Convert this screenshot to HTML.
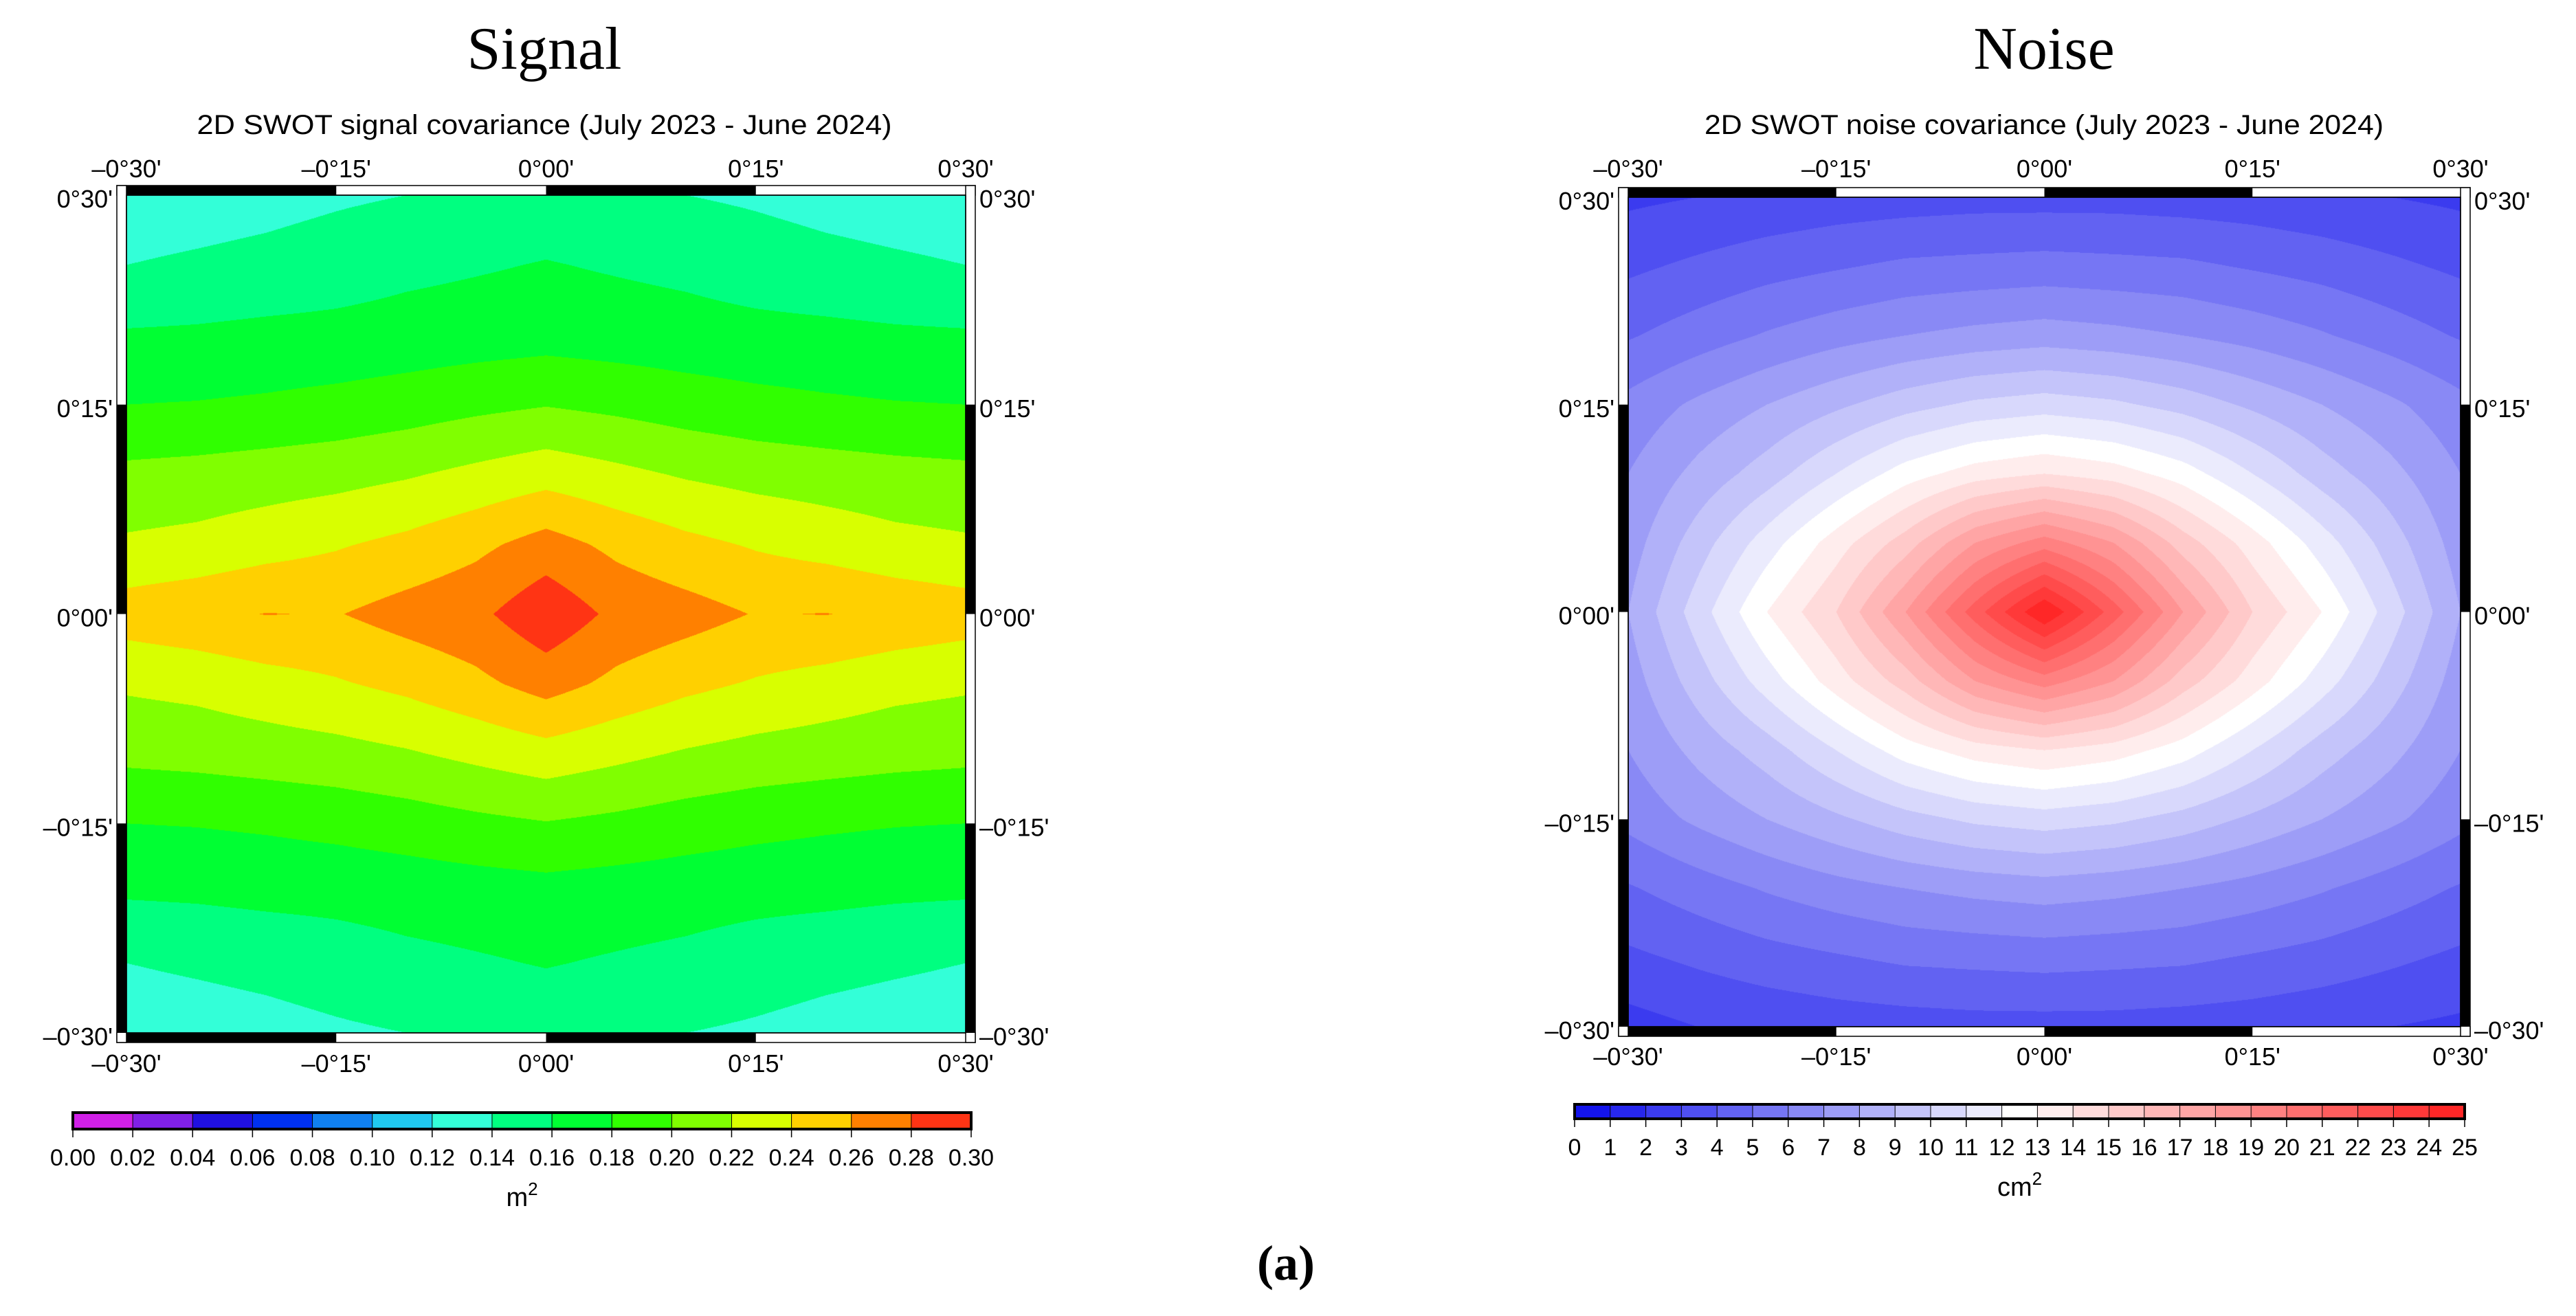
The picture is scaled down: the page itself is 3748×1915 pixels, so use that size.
<!DOCTYPE html>
<html><head><meta charset="utf-8">
<style>
html,body{margin:0;padding:0;background:#fff;}
#root{position:relative;width:3748px;height:1915px;overflow:hidden;background:#fff;}
canvas{position:absolute;}
svg{position:absolute;left:0;top:0;}
</style></head>
<body>
<div id="root">
<canvas id="sigc" style="left:184px;top:284px" width="1221" height="1219"></canvas>
<canvas id="noic" style="left:2369px;top:287px" width="1211" height="1207"></canvas>
<svg id="ov" width="3748" height="1915"></svg>
</div>
<script>
// ---- data ----
const lonTicks = ["\u20130\u00b030'","\u20130\u00b015'","0\u00b000'","0\u00b015'","0\u00b030'"];
const latTicks = ["0\u00b030'","0\u00b015'","0\u00b000'","\u20130\u00b015'","\u20130\u00b030'"];
const signalLevels = [0,0.02,0.04,0.06,0.08,0.10,0.12,0.14,0.16,0.18,0.20,0.22,0.24,0.26,0.28,0.30];
const signalLevelLabels = ["0.00","0.02","0.04","0.06","0.08","0.10","0.12","0.14","0.16","0.18","0.20","0.22","0.24","0.26","0.28","0.30"];
const signalColors = ["#d020e8","#8020e8","#2010e0","#0030f0","#1080f0","#20c8f0","#33ffd8","#00ff80","#00ff33","#30ff00","#80ff00","#d8ff00","#ffd000","#ff8000","#ff3414"];
const noiseLevels = [0,1,2,3,4,5,6,7,8,9,10,11,12,13,14,15,16,17,18,19,20,21,22,23,24,25];
// rows: lat +30' .. -30' (step 5'), cols: lon -30' .. +30' (step 5')
const signalValues = [
[.128,.130,.133,.137,.140,.145,.148,.145,.140,.137,.133,.130,.128],
[.140,.143,.146,.150,.155,.158,.161,.158,.155,.150,.146,.143,.140],
[.162,.163,.165,.166,.168,.170,.172,.170,.168,.166,.165,.163,.162],
[.180,.181,.183,.186,.190,.195,.199,.195,.190,.186,.183,.181,.180],
[.205,.207,.210,.213,.218,.225,.232,.225,.218,.213,.210,.207,.205],
[.223,.226,.232,.238,.245,.255,.268,.255,.245,.238,.232,.226,.223],
[.250,.255,.2605,.259,.268,.275,.295,.275,.268,.259,.2605,.255,.250],
[.223,.226,.232,.238,.245,.255,.268,.255,.245,.238,.232,.226,.223],
[.205,.207,.210,.213,.218,.225,.232,.225,.218,.213,.210,.207,.205],
[.180,.181,.183,.186,.190,.195,.199,.195,.190,.186,.183,.181,.180],
[.162,.163,.165,.166,.168,.170,.172,.170,.168,.166,.165,.163,.162],
[.140,.143,.146,.150,.155,.158,.161,.158,.155,.150,.146,.143,.140],
[.128,.130,.133,.137,.140,.145,.148,.145,.140,.137,.133,.130,.128]];
const noiseValues = [
[2.8,3.0,3.2,3.4,3.5,3.6,3.6,3.6,3.5,3.4,3.2,3.0,2.8],
[3.8,4.2,4.6,4.9,5.2,5.3,5.4,5.3,5.2,4.9,4.6,4.2,3.8],
[4.9,5.5,6.1,6.6,7.0,7.3,7.5,7.3,7.0,6.6,6.1,5.5,4.9],
[6.3,7.2,8.0,8.8,9.6,10.2,10.5,10.2,9.6,8.8,8.0,7.2,6.3],
[7.0,8.3,9.5,11.0,12.5,13.5,14.0,13.5,12.5,11.0,9.5,8.3,7.0],
[7.5,9.5,11.5,13.5,15.5,18.0,19.5,18.0,15.5,13.5,11.5,9.5,7.5],
[8.0,10.5,13.0,15.0,18.0,21.5,25.0,21.5,18.0,15.0,13.0,10.5,8.0],
[7.5,9.5,11.5,13.5,15.5,18.0,19.5,18.0,15.5,13.5,11.5,9.5,7.5],
[7.0,8.3,9.5,11.0,12.5,13.5,14.0,13.5,12.5,11.0,9.5,8.3,7.0],
[6.3,7.2,8.0,8.8,9.6,10.2,10.5,10.2,9.6,8.8,8.0,7.2,6.3],
[4.9,5.5,6.1,6.6,7.0,7.3,7.5,7.3,7.0,6.6,6.1,5.5,4.9],
[3.8,4.2,4.6,4.9,5.2,5.3,5.4,5.3,5.2,4.9,4.6,4.2,3.8],
[2.6,3.0,3.2,3.4,3.5,3.6,3.6,3.6,3.5,3.4,3.2,3.0,2.8]];

function hexRgb(h){return [parseInt(h.substr(1,2),16),parseInt(h.substr(3,2),16),parseInt(h.substr(5,2),16)];}
function noiseColor(k){ // band k..k+1
  const m=k+0.5;
  if(m<12.5){const t=m/12.5;return [Math.round(10+t*245),Math.round(10+t*245),Math.round(235+t*20)];}
  const t=(m-12.5)/12.5;return [255,Math.round(255-t*225),Math.round(255-t*225)];
}
function rgbStr(c){return 'rgb('+c[0]+','+c[1]+','+c[2]+')';}

function drawField(canvasId, grid, bandOf){
  const cv=document.getElementById(canvasId);const ctx=cv.getContext('2d');
  const W=cv.width,H=cv.height;const img=ctx.createImageData(W,H);const d=img.data;
  const nr=grid.length-1,nc=grid[0].length-1;
  for(let y=0;y<H;y++){
    const gy=(y+0.5)/H*nr;let r=Math.min(Math.floor(gy),nr-1);const fy=gy-r;
    for(let x=0;x<W;x++){
      const gx=(x+0.5)/W*nc;let c=Math.min(Math.floor(gx),nc-1);const fx=gx-c;
      const v=grid[r][c]*(1-fx)*(1-fy)+grid[r][c+1]*fx*(1-fy)+grid[r+1][c]*(1-fx)*fy+grid[r+1][c+1]*fx*fy;
      const col=bandOf(v);const i=(y*W+x)*4;
      d[i]=col[0];d[i+1]=col[1];d[i+2]=col[2];d[i+3]=255;
    }
  }
  ctx.putImageData(img,0,0);
}
const sigRgb=signalColors.map(hexRgb);
drawField('sigc',signalValues,v=>{let k=Math.floor(v/0.02+1e-9);k=Math.max(0,Math.min(14,k));return sigRgb[k];});
drawField('noic',noiseValues,v=>{let k=Math.floor(v);k=Math.max(0,Math.min(24,k));return noiseColor(k);});

// ---- overlay svg ----
const NS='http://www.w3.org/2000/svg';const svg=document.getElementById('ov');
function el(tag,attrs,parent){const e=document.createElementNS(NS,tag);for(const k in attrs)e.setAttribute(k,attrs[k]);(parent||svg).appendChild(e);return e;}
function txt(s,x,y,size,anchor,extra,parent){const t=el('text',Object.assign({x:x,y:y,'font-size':size,'text-anchor':anchor||'middle','font-family':'"Liberation Sans", sans-serif',fill:'#000'},extra||{}),parent);t.textContent=s;return t;}

function panel(p){
  const g=el('g',{});
  
  
  const t1=txt(p.title,p.cx,100,88,'middle',{'font-family':'"Liberation Serif", serif'},g);
  
  
  const t2=txt(p.sub,p.cx,195,40,'middle',{textLength:p.subW,lengthAdjust:'spacingAndGlyphs'},g);
  
  
  const L=p.x0,R=p.x1,T=p.y0,B=p.y1,bw=14;
  const fx=i=>L+(R-L)*i/4, fy=i=>T+(B-T)*i/4;
  const fr=el('g',{},g);
  
  
  el('rect',{x:L-bw,y:T-bw,width:R-L+2*bw,height:bw,fill:'#fff',stroke:'#000','stroke-width':1.5},fr);
  el('rect',{x:L-bw,y:B,width:R-L+2*bw,height:bw,fill:'#fff',stroke:'#000','stroke-width':1.5},fr);
  el('rect',{x:L-bw,y:T-bw,width:bw,height:B-T+2*bw,fill:'#fff',stroke:'#000','stroke-width':1.5},fr);
  el('rect',{x:R,y:T-bw,width:bw,height:B-T+2*bw,fill:'#fff',stroke:'#000','stroke-width':1.5},fr);
  [0,2].forEach(i=>{
    el('rect',{x:fx(i),y:T-bw,width:fx(i+1)-fx(i),height:bw,fill:'#000'},fr);
    el('rect',{x:fx(i),y:B,width:fx(i+1)-fx(i),height:bw,fill:'#000'},fr);
  });
  [1,3].forEach(i=>{
    el('rect',{x:L-bw,y:fy(i),width:bw,height:fy(i+1)-fy(i),fill:'#000'},fr);
    el('rect',{x:R,y:fy(i),width:bw,height:fy(i+1)-fy(i),fill:'#000'},fr);
  });
  el('rect',{x:L,y:T,width:R-L,height:B-T,fill:'none',stroke:'#000','stroke-width':1.5},fr);
  lonTicks.forEach((s,i)=>{
    const a=txt(s,fx(i),258,36,'middle',{},g);
    
    
    const b=txt(s,fx(i),p.botY,36,'middle',{},g);
    
    
  });
  latTicks.forEach((s,i)=>{
    const a=txt(s,L-bw-6,fy(i)+18,36,'end',{},g);
    
    
    const b=txt(s,R+bw+6,fy(i)+18,36,'start',{},g);
    
    
  });
  const cb=el('g',{},g);
  
  
  const n=p.levels.length-1;const cx=i=>p.cbx0+(p.cbx1-p.cbx0)*i/n;
  for(let k=0;k<n;k++){
    const r=el('rect',{x:cx(k),y:p.cby0,width:cx(k+1)-cx(k)+0.5,height:p.cby1-p.cby0,fill:p.colorOf(k),stroke:'#000','stroke-width':1},cb);
    
    
  }
  el('rect',{x:p.cbx0,y:p.cby0,width:p.cbx1-p.cbx0,height:p.cby1-p.cby0,fill:'none',stroke:'#000','stroke-width':4},cb);
  for(let k=0;k<=n;k++){
    el('line',{x1:cx(k),x2:cx(k),y1:p.cby1,y2:p.cby1+12,stroke:'#000','stroke-width':1.5},cb);
    const l=txt(p.labels[k],cx(k),p.lblY,p.lblSize,'middle',{},cb);
    
    
  }
  const u=txt(p.unit,(p.cbx0+p.cbx1)/2,p.unitY,38,'middle',{},cb);
  
  
  const sup=el('tspan',{dy:-16,'font-size':26},u);sup.textContent='2';
}
panel({name:'signal',title:'Signal',sub:'2D SWOT signal covariance (July 2023 - June 2024)',subW:1011,cx:792,
  x0:184,x1:1405,y0:284,y1:1503,botY:1560,
  cbx0:106,cbx1:1413,cby0:1619,cby1:1643,lblY:1696,lblSize:34,unitY:1755,unit:'m',
  levels:signalLevels,labels:signalLevelLabels,colorOf:k=>signalColors[k]});
panel({name:'noise',title:'Noise',sub:'2D SWOT noise covariance (July 2023 - June 2024)',subW:988,cx:2974,
  x0:2369,x1:3580,y0:287,y1:1494,botY:1550,
  cbx0:2291,cbx1:3586,cby0:1607,cby1:1628,lblY:1681,lblSize:34,unitY:1740,unit:'cm',
  levels:noiseLevels,labels:noiseLevels.map(String),colorOf:k=>rgbStr(noiseColor(k))});
const a=txt('(a)',1871,1862,72,'middle',{'font-family':'"Liberation Serif", serif','font-weight':'bold'});


</script>
</body></html>
